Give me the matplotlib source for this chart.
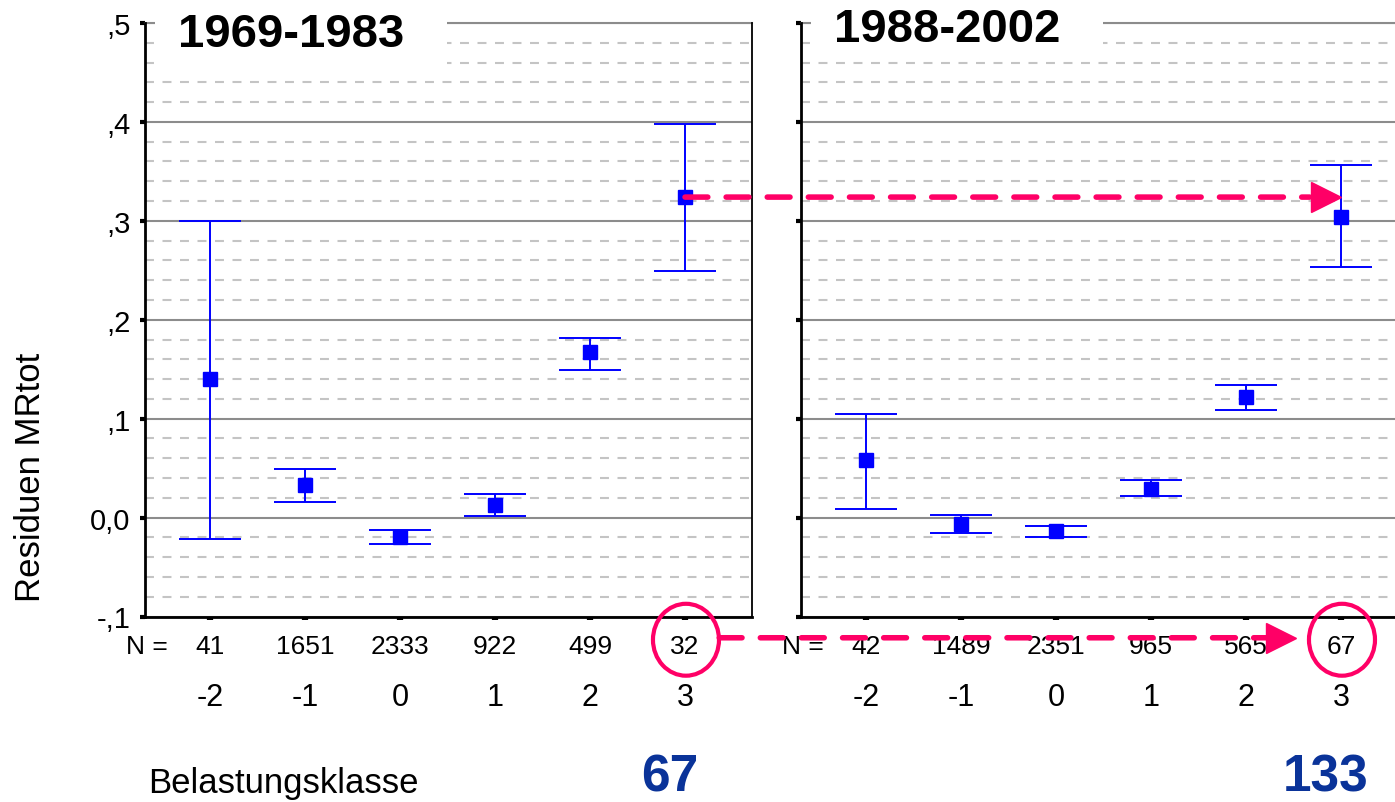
import numpy as np
import matplotlib.pyplot as plt
from matplotlib.patches import Ellipse, Rectangle, ConnectionPatch
import matplotlib.transforms as mtransforms

plt.rcParams['font.family'] = ['Liberation Sans', 'DejaVu Sans']

klassen = [-2, -1, 0, 1, 2, 3]
n_links = [41, 1651, 2333, 922, 499, 32]
n_rechts = [42, 1489, 2351, 965, 565, 67]

mw_links = np.array([0.140, 0.033, -0.020, 0.013, 0.167, 0.324])
ob_links = np.array([0.300, 0.049, -0.013, 0.024, 0.182, 0.398])
un_links = np.array([-0.022, 0.016, -0.027, 0.002, 0.149, 0.249])

mw_rechts = np.array([0.058, -0.006, -0.0135, 0.029, 0.122, 0.304])
ob_rechts = np.array([0.105, 0.003, -0.009, 0.038, 0.134, 0.356])
un_rechts = np.array([0.009, -0.0155, -0.020, 0.022, 0.109, 0.2535])

titel = ['1969-1983', '1988-2002']
ytick_werte = [-0.1, 0.0, 0.1, 0.2, 0.3, 0.4, 0.5]
ytick_text = ['-,1', '0,0', ',1', ',2', ',3', ',4', ',5']

blau = '#0000ff'
pink = '#ff0066'
dunkelblau = '#0a3399'

fig = plt.figure(figsize=(13.95, 8.03), dpi=100)
ax1 = fig.add_axes([145/1395, 185.5/803, 607/1395, 593.5/803])
ax2 = fig.add_axes([801/1395, 185.5/803, 607/1395, 593.5/803])

daten = [(ax1, mw_links, ob_links, un_links, n_links, titel[0]),
         (ax2, mw_rechts, ob_rechts, un_rechts, n_rechts, titel[1])]

for i, (ax, mw, ob, un, n, t) in enumerate(daten):
    ax.set_xlim(-2.685, 3.705)
    ax.set_ylim(-0.1, 0.5)
    ax.set_yticks(ytick_werte)
    ax.set_yticks(np.arange(-0.08, 0.5, 0.02), minor=True)
    ax.set_axisbelow(True)
    ax.grid(True, which='major', axis='y', color='#8c8c8c', lw=1.5)
    ax.grid(True, which='minor', axis='y', color='#c4c4c4', lw=1.5,
            linestyle=(0, (4.3, 4.1)))
    # oberste Linie nicht abschneiden
    ax.axhline(0.5, color='#8c8c8c', lw=1.5, clip_on=False, zorder=0.6)
    ax.set_xticks(klassen)
    ax.set_xticklabels([])
    ax.tick_params(axis='x', length=2, width=4.5, color='black')
    ax.tick_params(axis='y', which='major', length=3.5, width=3, pad=7,
                   labelsize=21)
    ax.tick_params(axis='y', which='minor', length=0)
    ax.spines['top'].set_visible(False)
    ax.spines['left'].set_linewidth(2)
    ax.spines['bottom'].set_linewidth(2)
    ax.spines['right'].set_linewidth(1.3)
    if i == 0:
        ax.set_yticklabels(ytick_text)
    else:
        ax.set_yticklabels([])
        ax.spines['right'].set_visible(False)

    ax.errorbar(klassen, mw, yerr=[mw - un, ob - mw], fmt='s', color=blau,
                ms=10.5, capsize=22, elinewidth=1.4, capthick=1.4, zorder=3)

    # N-Zeile und Klassen
    ax.text(-2.45, -0.137, 'N =', ha='right', va='baseline', fontsize=19,
            clip_on=False)
    for k, nk in zip(klassen, n):
        ax.text(k, -0.137, str(nk), ha='center', va='baseline', fontsize=19,
                clip_on=False)
        ax.text(k, -0.1895, str(k), ha='center', va='baseline', fontsize=22,
                clip_on=False)

    # Titel mit weissem Hintergrund
    unten = 0.452 if i == 0 else 0.47
    ax.add_patch(Rectangle((-2.575, unten), 3.07, 0.52 - unten,
                           facecolor='white', edgecolor='none', zorder=1,
                           clip_on=False))
    ax.text(-2.34, 0.477 if i == 0 else 0.482, t, fontsize=34,
            fontweight='bold', ha='left', va='baseline', zorder=4)

# Pfeil oben
y3 = mw_links[5]
linie = ConnectionPatch(xyA=(3, y3), coordsA=ax1.transData,
                        xyB=(2.67, y3), coordsB=ax2.transData,
                        color=pink, lw=4, linestyle=(0, (4.1, 3.3)),
                        arrowstyle='-', zorder=5)
fig.add_artist(linie)
versatz = mtransforms.ScaledTranslation(-11/72, 0, fig.dpi_scale_trans)
ax2.plot([3], [y3], marker='>', ms=22, color=pink, mec=pink,
         transform=ax2.transData + versatz, clip_on=False, zorder=6)

# Pfeil unten mit Kreisen
y_n = -0.1215
for ax in (ax1, ax2):
    ax.add_patch(Ellipse((3.01, -0.1235), 0.695, 0.0727, fill=False,
                         edgecolor=pink, lw=3, clip_on=False, zorder=6))
linie2 = ConnectionPatch(xyA=(3.36, y_n), coordsA=ax1.transData,
                         xyB=(2.21, y_n), coordsB=ax2.transData,
                         color=pink, lw=4, linestyle=(0, (4.1, 3.3)),
                         arrowstyle='-', zorder=6)
fig.add_artist(linie2)
versatz2 = mtransforms.ScaledTranslation(-10.5/72, 0, fig.dpi_scale_trans)
ax2.plot([2.525], [y_n], marker='>', ms=21, color=pink, mec=pink,
         transform=ax2.transData + versatz2, clip_on=False, zorder=6)

fig.text(30/1395, 1 - 477/803, 'Residuen MRtot', rotation=90, ha='center',
         va='center', fontsize=25)
fig.text(148/1395, 10/803, 'Belastungsklasse', ha='left', va='baseline',
         fontsize=25)
fig.text(670/1395, 0.5/803, '67', ha='center', va='bottom', fontsize=37,
         fontweight='bold', color=dunkelblau)
fig.text(1326/1395, 0.5/803, '133', ha='center', va='bottom', fontsize=37,
         fontweight='bold', color=dunkelblau)

fig.savefig('out.png', dpi=100)
